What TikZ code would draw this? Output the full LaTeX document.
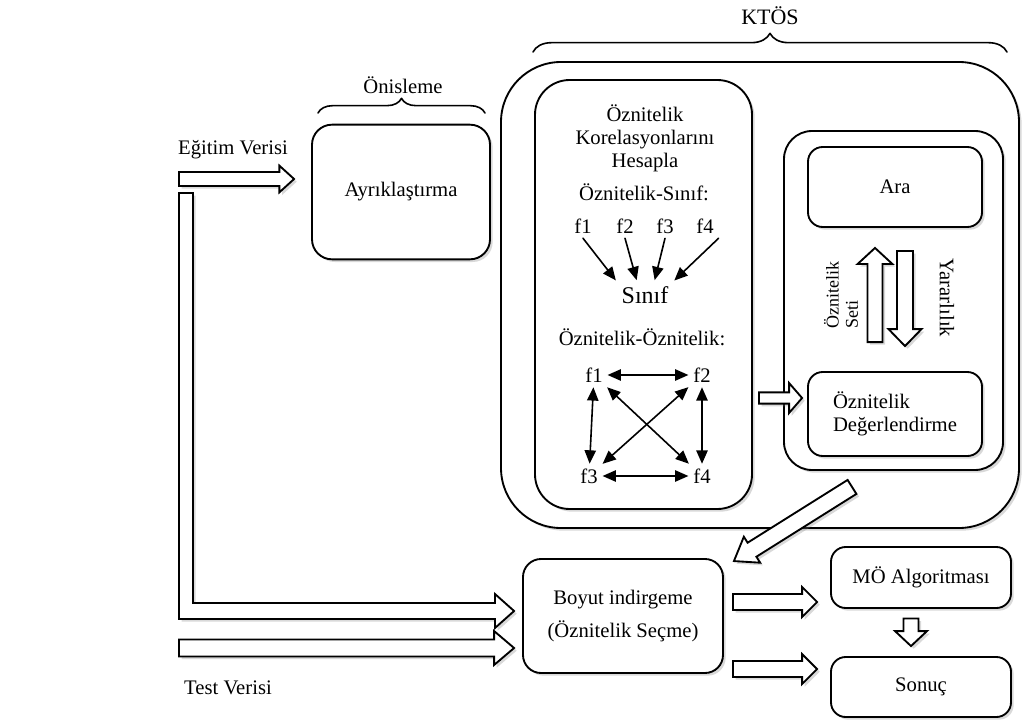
\documentclass[tikz,border=0pt]{standalone}
\usepackage{fontspec}
\setmainfont{Liberation Serif}
\usetikzlibrary{calc,shadows,decorations.pathreplacing,arrows.meta}

% hollow block arrow: start, tip, half body, half head, head length
\newcommand{\blokok}[5]{%
	\coordinate (bo-h) at ($(#2)!#5!(#1)$);
	\draw[blokok] ($(#1)!#3!90:(#2)$) -- ($(bo-h)!#3!-90:(#1)$) -- ($(bo-h)!#4!-90:(#1)$) -- (#2)
	-- ($(bo-h)!#4!90:(#1)$) -- ($(bo-h)!#3!90:(#1)$) -- ($(#1)!#3!-90:(#2)$) -- cycle;}

\begin{document}
\begin{tikzpicture}[x=0.75pt,y=-0.75pt,line join=round,line cap=round,>={Triangle[length=10pt,width=8.5pt]},thick]
	\tikzset{yazi/.style={font=\fontsize{15.5}{17.25}\selectfont,align=center},
		golge/.style={drop shadow={opacity=0.3,shadow xshift=2pt,shadow yshift=-2pt}},
		kutu/.style={draw,line width=1.4pt,fill=white,rounded corners=#1,inner sep=0pt,golge,yazi},
		kutu/.default=12pt,
		blokok/.style={draw,line width=1.4pt,fill=white,line join=miter,golge},
		ok/.style={<->,line width=1.2pt},
		kok/.style={->,line width=1.2pt,shorten >=1pt}}
	\useasboundingbox (0,0) rectangle (1028,724);
	
	% kutular
	\node[kutu=15pt,minimum width=133.5pt,minimum height=101pt] (ayrik) at (401,192) {Ayrıklaştırma};
	\node[kutu=45pt,minimum width=388.5pt,minimum height=349.5pt] (ktos) at (760,295) {};
	\node[kutu=26pt,minimum width=162.75pt,minimum height=321.75pt] (korel) at (643.5,294.5) {};
	\node[kutu=21pt,minimum width=164.25pt,minimum height=254.25pt] (secim) at (893.5,300.5) {};
	\node[kutu=11pt,minimum width=130.5pt,minimum height=60pt] (ara) at (895,187) {Ara};
	\node[kutu=11pt,minimum width=130.5pt,minimum height=63pt,align=left] (degerl) at (895,414) {Öznitelik\\Değerlendirme};
	\node[kutu=13.5pt,minimum width=150pt,minimum height=85.5pt] (boyut) at (623,616) {Boyut indirgeme\\[7pt](Öznitelik Seçme)};
	\node[kutu=11pt,minimum width=135pt,minimum height=45.75pt] (mo) at (921,577.5) {MÖ Algoritması};
	\node[kutu=11pt,minimum width=135pt,minimum height=45pt] (sonuc) at (921,687) {Sonuç};
	
	% yazilar
	\node[yazi,font=\fontsize{16.5}{18}\selectfont] (ktosyazi) at (770,16) {KTÖS};
	\node[yazi] (onisyazi) at (403,85) {Önisleme};
	\node[yazi] (egitim) at (233,150) {Eğitim Verisi};
	\node[yazi] (test) at (228,688) {Test Verisi};
	\node[yazi] (baslik) at (645,138) {Öznitelik\\Korelasyonlarını\\Hesapla};
	\node[yazi] (osinif) at (644,192) {Öznitelik-Sınıf:};
	\node[yazi,font=\fontsize{18}{20}\selectfont] (sinif) at (645,295) {Sınıf};
	\node[yazi] (oo) at (642,337) {Öznitelik-Öznitelik:};
	\node[font=\fontsize{13.5}{14.5}\selectfont,rotate=90,align=left] (set) at (841,295) {Öznitelik\\Seti};
	\node[yazi,rotate=-90] (yarar) at (947,298) {Yararlılık};
	
	% oznitelik - sinif
	\foreach \i/\x in {1/583,2/625,3/665,4/705}
	\node[yazi] (u\i) at (\x,226) {f\i};
	\draw[kok] (u1.south) -- (sinif.north west);
	\draw[kok] (u2.south) -- ([xshift=-6]sinif.north);
	\draw[kok] (u3.south) -- ([xshift=7]sinif.north);
	\draw[kok] (u4.south east) -- (sinif.north east);
	
	% oznitelik - oznitelik
	\node[yazi] (a1) at (594,375) {f1};
	\node[yazi] (a2) at (702,375) {f2};
	\node[yazi] (a3) at (589,476) {f3};
	\node[yazi] (a4) at (702,476) {f4};
	\foreach \p/\q in {a1/a2,a3/a4,a1/a3,a2/a4,a1/a4,a2/a3}
	\draw[ok] (\p) -- (\q);
	
	% braces
	\draw[decorate,decoration={brace,amplitude=14pt},line width=1.2pt] (533,52) -- (1007,52);
	\draw[decorate,decoration={brace,amplitude=11pt},line width=1.2pt] (318,113) -- (485,113);
	
	% blok oklar
	\coordinate (e1) at (179,179);
	\coordinate (e2) at ($(ayrik.west)+(-17,-13)$);
	\blokok{e1}{e2}{5.25pt}{10pt}{11pt}
	\coordinate (lt) at ($(boyut.west)+(-8,-5)$);
	\draw[blokok] (179,193) -- (193,193) -- (193,603) -- (495,603) -- (495,594) -- (lt)
	-- (495,628) -- (495,619) -- (179,619) -- cycle;
	\coordinate (t1) at (179,648);
	\coordinate (t2) at ($(boyut.west)+(-8,32)$);
	\blokok{t1}{t2}{6.4pt}{12.75pt}{15pt}
	\coordinate (m1) at ($(boyut.east)+(9,-14)$);
	\coordinate (m2) at ($(mo.west)+(-13,24.5)$);
	\blokok{m1}{m2}{6pt}{11.25pt}{11.25pt}
	\coordinate (s1) at ($(boyut.east)+(9,53)$);
	\coordinate (s2) at ($(sonuc.west)+(-13,-18)$);
	\blokok{s1}{s2}{6pt}{11.25pt}{11.25pt}
	\coordinate (ms1) at ($(mo.south)+(-10,9.5)$);
	\coordinate (ms2) at ($(sonuc.north)+(-10,-10)$);
	\blokok{ms1}{ms2}{5.6pt}{12pt}{11.25pt}
	\coordinate (kd1) at ($(korel.east)+(6,103.5)$);
	\coordinate (kd2) at ($(degerl.west)+(-5,-16)$);
	\blokok{kd1}{kd2}{4.2pt}{11.25pt}{9.75pt}
	\coordinate (y1) at ($(degerl.north)+(-20,-29)$);
	\coordinate (y2) at ($(ara.south)+(-20,20)$);
	\blokok{y1}{y2}{5.6pt}{13pt}{12pt}
	\coordinate (d1) at ($(ara.south)+(10,23)$);
	\coordinate (d2) at ($(degerl.north)+(10,-25)$);
	\blokok{d1}{d2}{6pt}{12.4pt}{12.75pt}
	\coordinate (k1) at ($(ktos.south)+(92,-42)$);
	\coordinate (k2) at ($(boyut.north east)+(10,3)$);
	\blokok{k1}{k2}{6.2pt}{11.5pt}{16pt}
	
\end{tikzpicture}
\end{document}
